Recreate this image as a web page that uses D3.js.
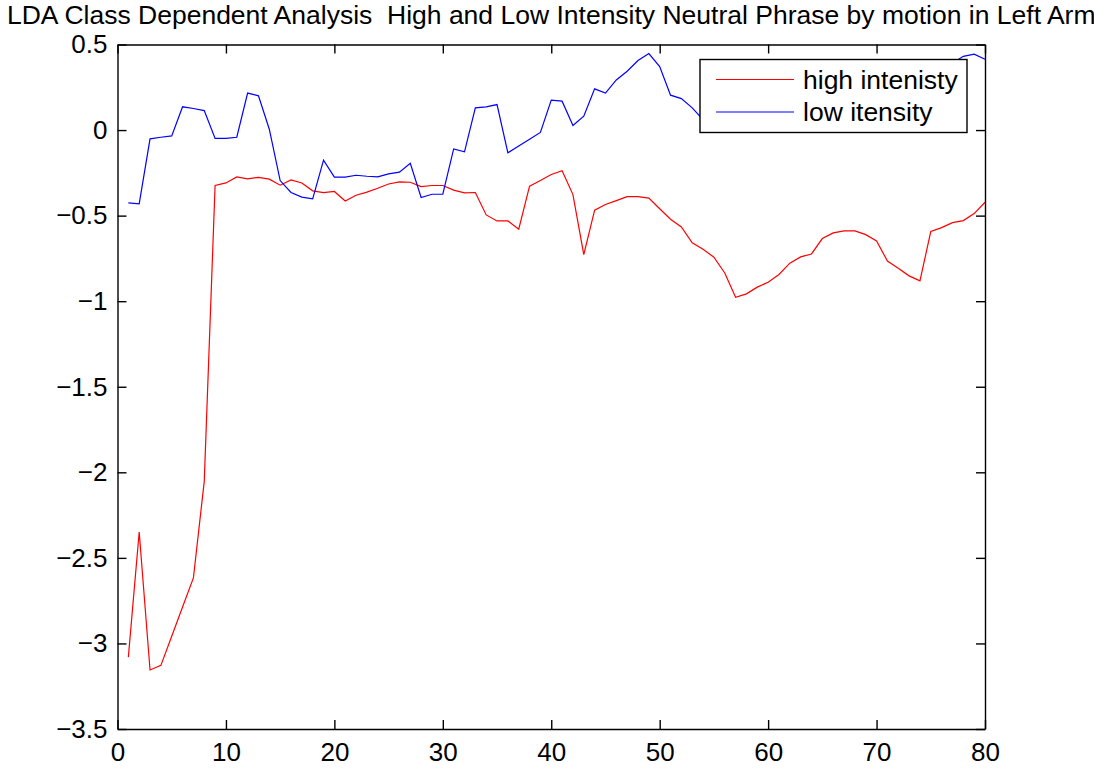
<!DOCTYPE html>
<html>
<head>
<meta charset="utf-8">
<script src="https://cdn.jsdelivr.net/npm/d3@7"></script>
<style>
  html, body { margin: 0; padding: 0; background: #fff; }
  svg { display: block; }
  text { font-family: "Liberation Sans", Arial, Helvetica, sans-serif; fill: #000; }
</style>
</head>
<body>
<svg id="chart" width="1094" height="768"></svg>
<script>
// Frame index along the phrase (1..80)
const frames = d3.range(1, 81);

// LDA projection for the high intensity class
const highIntensity = [
  -3.080, -2.349, -3.155, -3.128, -2.958, -2.787, -2.617, -2.053, -0.324, -0.309,
  -0.274, -0.285, -0.276, -0.287, -0.322, -0.291, -0.309, -0.355, -0.365, -0.359,
  -0.414, -0.381, -0.363, -0.340, -0.315, -0.303, -0.305, -0.330, -0.324, -0.324,
  -0.351, -0.367, -0.365, -0.496, -0.531, -0.531, -0.579, -0.328, -0.295, -0.260,
  -0.238, -0.377, -0.728, -0.468, -0.435, -0.412, -0.389, -0.389, -0.398, -0.460,
  -0.521, -0.566, -0.659, -0.696, -0.743, -0.835, -0.977, -0.957, -0.918, -0.889,
  -0.844, -0.778, -0.741, -0.724, -0.634, -0.601, -0.589, -0.589, -0.611, -0.648,
  -0.765, -0.807, -0.852, -0.881, -0.593, -0.570, -0.541, -0.529, -0.488, -0.422
];

// LDA projection for the low intensity class
const lowIntensity = [
  -0.425, -0.431, -0.051, -0.042, -0.034, 0.136, 0.126, 0.114, -0.049, -0.049,
  -0.042, 0.216, 0.200, 0.005, -0.295, -0.365, -0.392, -0.402, -0.176, -0.275,
  -0.275, -0.264, -0.270, -0.274, -0.256, -0.246, -0.194, -0.394, -0.375, -0.375,
  -0.110, -0.127, 0.130, 0.136, 0.149, -0.133, -0.093, -0.054, -0.014, 0.175,
  0.169, 0.027, 0.081, 0.241, 0.216, 0.293, 0.344, 0.406, 0.447, 0.371,
  0.204, 0.184, 0.130, 0.061, 0.045, 0.060, 0.095, 0.120, 0.150, 0.170,
  0.190, 0.160, 0.180, 0.210, 0.240, 0.230, 0.260, 0.280, 0.270, 0.300,
  0.320, 0.310, 0.340, 0.360, 0.350, 0.370, 0.390, 0.431, 0.444, 0.414
];

const seriesNames = ["high intenisty", "low itensity"];
const seriesColors = ["#ff0000", "#0000ff"];

const xTicks = [0, 10, 20, 30, 40, 50, 60, 70, 80];
const yTicks = [0.5, 0, -0.5, -1, -1.5, -2, -2.5, -3, -3.5];

const titleText = "LDA Class Dependent Analysis  High and Low Intensity Neutral Phrase by motion in Left Arm";

const svg = d3.select("#chart");
const plotLeft = 117.5, plotRight = 985, plotTop = 44.5, plotBottom = 729;
const fontSize = 26;

const x = d3.scaleLinear().domain([0, 80]).range([plotLeft, plotRight]);
const y = d3.scaleLinear().domain([-3.5, 0.5]).range([plotBottom, plotTop]);

const tickLen = 9;
const fmt = d3.format("");

// Axes, ticks pointing into the plot on every side
const axisBottom = d3.axisBottom(x).tickValues(xTicks).tickSizeInner(-tickLen).tickSizeOuter(0).tickPadding(14).tickFormat(fmt);
const axisTop = d3.axisTop(x).tickValues(xTicks).tickSizeInner(-tickLen).tickSizeOuter(0).tickFormat("");
const axisLeft = d3.axisLeft(y).tickValues(yTicks).tickSizeInner(-tickLen).tickSizeOuter(0).tickPadding(10).tickFormat(fmt);
const axisRight = d3.axisRight(y).tickValues(yTicks).tickSizeInner(-tickLen).tickSizeOuter(0).tickFormat("");

const line = d3.line().x((d, i) => x(frames[i])).y(d => y(d));

const plot = svg.append("g");
[highIntensity, lowIntensity].forEach((vals, k) => {
  plot.append("path")
    .datum(vals)
    .attr("fill", "none")
    .attr("stroke", seriesColors[k])
    .attr("stroke-width", 1.2)
    .attr("stroke-linejoin", "miter")
    .attr("d", line);
});

function styleAxis(g) {
  g.selectAll("path.domain").attr("stroke", "#000").attr("stroke-width", 1.4);
  g.selectAll(".tick line").attr("stroke", "#000").attr("stroke-width", 1.4);
  g.selectAll(".tick text")
    .attr("font-size", fontSize)
    .attr("font-family", "Liberation Sans, Arial, sans-serif")
    .attr("fill", "#000");
}

svg.append("g").attr("transform", `translate(0,${plotBottom})`).call(axisBottom).call(styleAxis);
svg.append("g").attr("transform", `translate(0,${plotTop})`).call(axisTop).call(styleAxis);
svg.append("g").attr("transform", `translate(${plotLeft},0)`).call(axisLeft).call(styleAxis);
svg.append("g").attr("transform", `translate(${plotRight},0)`).call(axisRight).call(styleAxis);

// Title (keeps its double space)
svg.append("text")
  .attr("x", (plotLeft + plotRight) / 2)
  .attr("y", 24)
  .attr("text-anchor", "middle")
  .attr("font-size", 26.5)
  .style("white-space", "pre")
  .attr("xml:space", "preserve")
  .text(titleText);

// Legend
const lg = svg.append("g");
lg.append("rect")
  .attr("x", 700).attr("y", 59.5)
  .attr("width", 267).attr("height", 73)
  .attr("fill", "#fff").attr("stroke", "#000").attr("stroke-width", 1.4);
const legendRows = [79.5, 112];
seriesNames.forEach((name, k) => {
  lg.append("line")
    .attr("x1", 716).attr("x2", 794)
    .attr("y1", legendRows[k]).attr("y2", legendRows[k])
    .attr("stroke", seriesColors[k]).attr("stroke-width", 1.2);
  lg.append("text")
    .attr("x", 803).attr("y", legendRows[k])
    .attr("dy", "0.35em")
    .attr("font-size", 26.5)
    .text(name);
});
</script>
</body>
</html>
